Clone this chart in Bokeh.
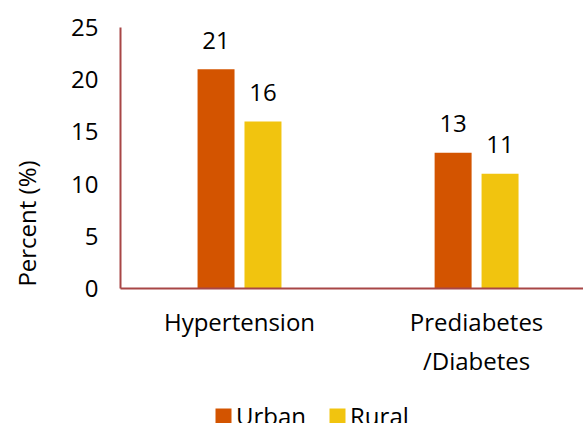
import math
from bokeh.plotting import figure
from bokeh.layouts import column, row
from bokeh.models import ColumnDataSource, Range1d, FixedTicker, Legend, LegendItem, Label
from bokeh.transform import dodge
from bokeh.core.properties import value
from bokeh.embed import file_html
from bokeh.resources import INLINE

categories = ["Hypertension", "Prediabetes\n/Diabetes"]
urban = [21, 13]
rural = [16, 11]
series_names = ["Urban", "Rural"]
y_ticks = [0, 5, 10, 15, 20, 25]
y_title = "Percent (%)"

FONT = "Open Sans"
FS = "24px"
ORANGE = "#D35400"
YELLOW = "#F1C40F"
AXIS = "#A84646"

src = ColumnDataSource(dict(
    x=list(range(len(categories))),
    urban=urban,
    rural=rural,
    ulab=[str(v) for v in urban],
    rlab=[str(v) for v in rural],
))

def clean(fig):
    fig.outline_line_color = None
    fig.background_fill_color = "white"
    fig.border_fill_color = "white"

# y-axis title strip (left)
yl = figure(width=45, height=423, output_backend="svg", toolbar_location=None,
            x_range=Range1d(0, 1), y_range=Range1d(0, 1),
            min_border_left=0, min_border_right=0, min_border_top=27, min_border_bottom=135)
yl.axis.visible = False
yl.grid.visible = False
clean(yl)
yl.add_layout(Label(x=26, y=65, x_units="screen", y_units="screen", text=y_title,
                    angle=math.pi / 2, text_align="center", text_baseline="middle",
                    text_font=FONT, text_font_size=FS, text_color="#000000"))

xr = Range1d(-0.502, 1.451)
p = figure(width=538, height=395, output_backend="svg", toolbar_location=None,
           x_range=xr, y_range=Range1d(0, 25),
           min_border_left=75, min_border_right=0, min_border_top=27,
           min_border_bottom=107)
clean(p)
p.xgrid.grid_line_color = None
p.ygrid.grid_line_color = None

off = 0.099
w = 0.156
p.vbar(x=dodge("x", -off), top="urban", width=w, source=src, color=ORANGE, line_color=None)
p.vbar(x=dodge("x", off), top="rural", width=w, source=src, color=YELLOW, line_color=None)

for col, lab, top in ((-off, "ulab", "urban"), (off, "rlab", "rural")):
    p.text(x=dodge("x", col), y=top, text=lab, source=src,
           text_align="center", text_baseline="alphabetic", y_offset=-29,
           text_font=value(FONT), text_font_size=FS, text_color="#000000")

for ax in (p.xaxis[0], p.yaxis[0]):
    ax.axis_line_color = AXIS
    ax.axis_line_width = 2
    ax.major_tick_line_color = None
    ax.minor_tick_line_color = None
    ax.major_tick_out = 0
    ax.major_tick_in = 0
    ax.major_label_text_font = FONT
    ax.major_label_text_font_size = FS
    ax.major_label_text_color = "#000000"

p.yaxis.ticker = FixedTicker(ticks=y_ticks)
p.yaxis.major_label_standoff = 22
p.xaxis.ticker = FixedTicker(ticks=list(range(len(categories))))
p.xaxis.major_label_overrides = {i: c for i, c in enumerate(categories)}
p.xaxis.major_label_standoff = 16

# legend strip below the chart (same data, bars fall outside its y range)
lg = figure(width=538, height=28, output_backend="svg", toolbar_location=None,
            x_range=xr, y_range=Range1d(100, 101),
            min_border_left=75, min_border_right=0, min_border_top=0, min_border_bottom=0)
lg.axis.visible = False
lg.grid.visible = False
clean(lg)
l1 = lg.vbar(x="x", top="urban", width=w, source=src, color=ORANGE, line_color=None)
l2 = lg.vbar(x="x", top="rural", width=w, source=src, color=YELLOW, line_color=None)
legend = Legend(items=[LegendItem(label=series_names[0], renderers=[l1]),
                       LegendItem(label=series_names[1], renderers=[l2])],
                orientation="horizontal", location=(93, -9),
                padding=0, margin=0, spacing=21, label_standoff=3,
                glyph_width=20, glyph_height=20,
                label_text_font=FONT, label_text_font_size=FS,
                label_text_color="#000000",
                border_line_color=None, background_fill_alpha=0)
lg.add_layout(legend, "center")

layout = row(yl, column(p, lg, spacing=0), spacing=0)
open("out.html", "w").write(file_html(layout, INLINE))
